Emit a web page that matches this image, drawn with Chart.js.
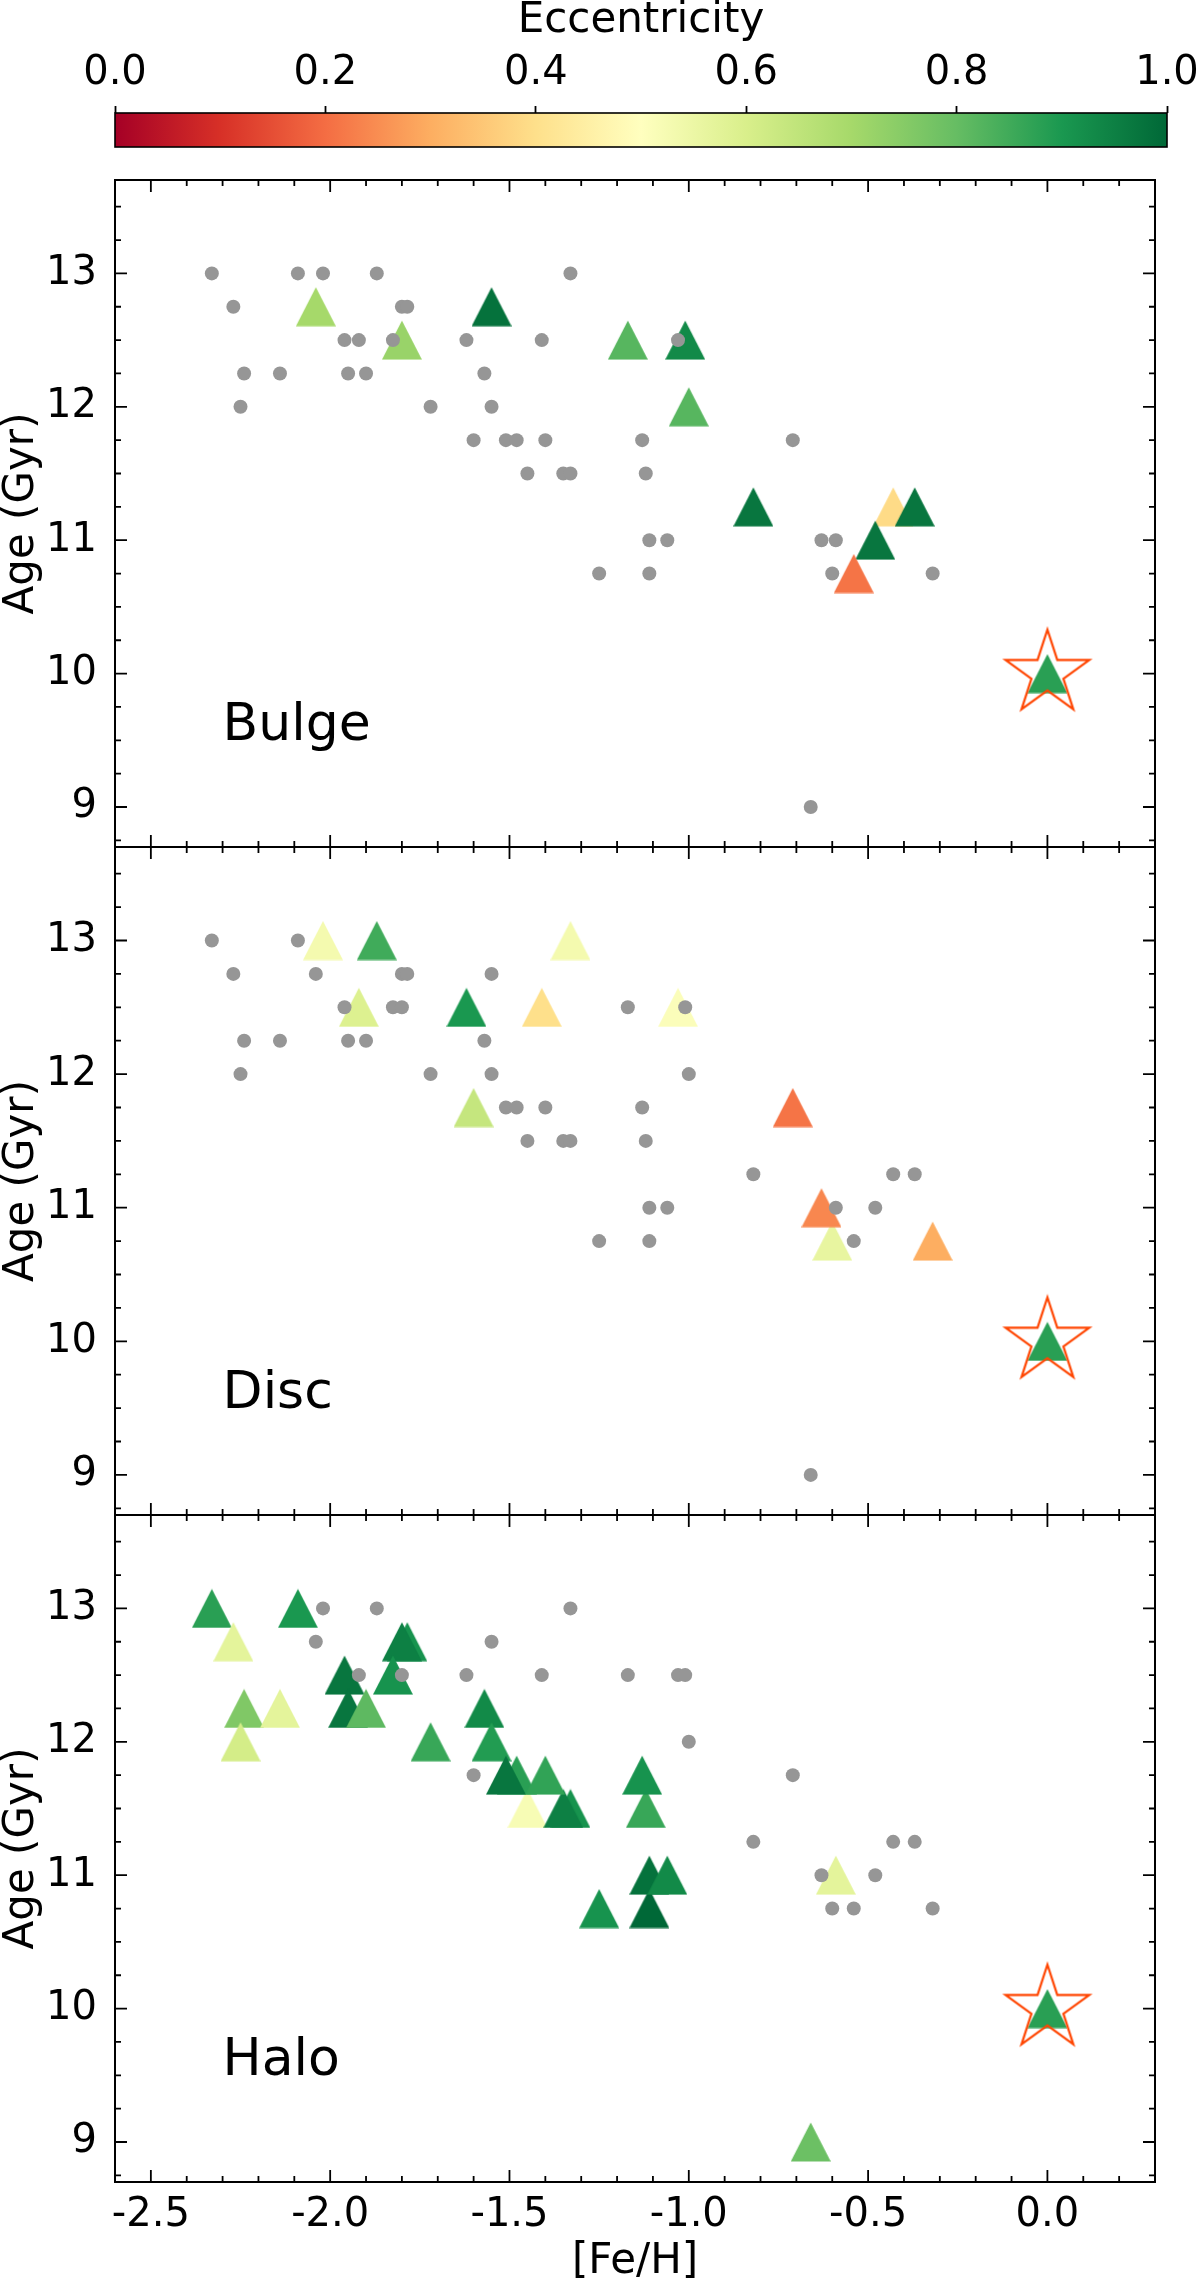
<!DOCTYPE html>
<html lang="en">
<head>
    <meta charset="UTF-8">
    <title>Age - [Fe/H] by component</title>
    <script src="https://cdn.jsdelivr.net/npm/chart.js"></script>
    <style>
        * { margin: 0; padding: 0; box-sizing: border-box; }
        body { background: #fff; width: 1200px; height: 2281px; overflow: hidden; }
        #wrap { position: relative; width: 1200px; height: 2281px; }
        canvas { position: absolute; left: 0; top: 0; }
    </style>
</head>
<body>
<div id="wrap">
    <canvas id="cbar" width="1200" height="160"></canvas>
    <canvas id="bulge" width="1200" height="2281"></canvas>
    <canvas id="disc" width="1200" height="2281"></canvas>
    <canvas id="halo" width="1200" height="2281"></canvas>
</div>

<script>
    // ---- data ----
    const panelNames = ['Bulge', 'Disc', 'Halo'];

    // grey dots: clusters not in the component
    const bulgeGreyFeH = [-2.33, -2.09, -2.02, -1.87, -1.33,
        -2.27, -1.80, -1.785,
        -1.96, -1.92, -1.825, -1.62, -1.41, -1.03,
        -2.24, -2.14, -1.95, -1.90, -1.57,
        -2.25, -1.72, -1.55,
        -1.60, -1.51, -1.48, -1.40, -1.13, -0.71,
        -1.45, -1.35, -1.33, -1.12,
        -1.11, -1.06, -0.63, -0.59,
        -1.25, -1.11, -0.60, -0.32,
        -0.66];
    const bulgeGreyAge = [13, 13, 13, 13, 13,
        12.75, 12.75, 12.75,
        12.5, 12.5, 12.5, 12.5, 12.5, 12.5,
        12.25, 12.25, 12.25, 12.25, 12.25,
        12, 12, 12,
        11.75, 11.75, 11.75, 11.75, 11.75, 11.75,
        11.5, 11.5, 11.5, 11.5,
        11, 11, 11, 11,
        10.75, 10.75, 10.75, 10.75,
        9];

    const discGreyFeH = [-2.33, -2.09,
        -2.27, -2.04, -1.80, -1.785, -1.55,
        -1.96, -1.825, -1.80, -1.17, -1.01,
        -2.24, -2.14, -1.95, -1.90, -1.57,
        -2.25, -1.72, -1.55, -1.00,
        -1.51, -1.48, -1.40, -1.13,
        -1.45, -1.35, -1.33, -1.12,
        -0.82, -0.43, -0.37,
        -1.11, -1.06, -0.59, -0.48,
        -1.25, -1.11, -0.54,
        -0.66];
    const discGreyAge = [13, 13,
        12.75, 12.75, 12.75, 12.75, 12.75,
        12.5, 12.5, 12.5, 12.5, 12.5,
        12.25, 12.25, 12.25, 12.25, 12.25,
        12, 12, 12, 12,
        11.75, 11.75, 11.75, 11.75,
        11.5, 11.5, 11.5, 11.5,
        11.25, 11.25, 11.25,
        11, 11, 11, 11,
        10.75, 10.75, 10.75,
        9];

    const haloGreyFeH = [-2.02, -1.87, -1.33,
        -2.04, -1.55,
        -1.92, -1.80, -1.62, -1.41, -1.17, -1.03, -1.01,
        -1.00,
        -1.60, -0.71,
        -0.82, -0.43, -0.37,
        -0.63, -0.48,
        -0.60, -0.54, -0.32];
    const haloGreyAge = [13, 13, 13,
        12.75, 12.75,
        12.5, 12.5, 12.5, 12.5, 12.5, 12.5, 12.5,
        12,
        11.75, 11.75,
        11.25, 11.25, 11.25,
        11, 11,
        10.75, 10.75, 10.75];

    // triangles: clusters in the component, coloured by eccentricity (last one sits in the star)
    const bulgeFeH = [-2.04, -1.80, -1.55, -1.17, -1.01, -1.00, -0.82, -0.43, -0.37, -0.48, -0.54, 0.0];
    const bulgeAge = [12.75, 12.5, 12.75, 12.5, 12.5, 12.0, 11.25, 11.25, 11.25, 11.0, 10.75, 10.0];
    const bulgeEcc = [0.70, 0.72, 0.98, 0.82, 0.93, 0.82, 0.97, 0.39, 0.97, 0.97, 0.21, 0.88];

    const discFeH = [-2.02, -1.87, -1.33, -1.92, -1.62, -1.41, -1.03, -1.60, -0.71, -0.60, -0.63, -0.32, 0.0];
    const discAge = [13.0, 13.0, 13.0, 12.5, 12.5, 12.5, 12.5, 11.75, 11.75, 10.75, 11.0, 10.75, 10.0];
    const discEcc = [0.53, 0.85, 0.53, 0.59, 0.90, 0.40, 0.51, 0.64, 0.21, 0.56, 0.24, 0.30, 0.88];

    const haloFeH = [-2.33, -2.09, -2.27, -1.785, -1.80, -1.96, -1.825, -2.24, -2.14, -1.95,
        -1.90, -1.57, -2.25, -1.72, -1.55, -1.45, -1.33, -1.35, -1.12, -1.48,
        -1.51, -1.40, -1.13, -1.11, -1.11, -1.06, -1.25, -0.59, -0.66, 0.0];
    const haloAge = [13.0, 13.0, 12.75, 12.75, 12.75, 12.5, 12.5, 12.25, 12.25, 12.25,
        12.25, 12.25, 12.0, 12.0, 12.0, 11.5, 11.5, 11.5, 11.5, 11.75,
        11.75, 11.75, 11.75, 10.75, 11.0, 11.0, 10.75, 11.0, 9.0, 10.0];
    const haloEcc = [0.88, 0.90, 0.57, 0.91, 0.95, 0.97, 0.91, 0.76, 0.57, 0.97,
        0.81, 0.93, 0.61, 0.86, 0.89, 0.52, 0.91, 0.95, 0.86, 0.88,
        0.97, 0.87, 0.91, 1.00, 0.98, 0.93, 0.91, 0.57, 0.79, 0.88];

    // open star
    const starFeH = [0.0];
    const starAge = [10.0];

    // axes
    const xMin = -2.6, xMax = 0.3;
    const yMin = 8.7, yMax = 13.7;
    const xTickValues = [-2.5, -2.0, -1.5, -1.0, -0.5, 0.0];
    const yTickValues = [9, 10, 11, 12, 13];
    const cbTickValues = [0.0, 0.2, 0.4, 0.6, 0.8, 1.0];

    // ---- layout (pixels) ----
    const W = 1200, H = 2281;
    const plotLeft = 115, plotRight = 1167;
    const panelTop = [180, 847, 1515];
    const panelBottom = [847, 1515, 2182];
    const tickFont = 40, labelFont = 42;

    Chart.defaults.font.family = '"DejaVu Sans", sans-serif';
    Chart.defaults.color = '#000';

    // RdYlGn, 11 anchor colours
    const rdylgn = ['#a50026', '#d73027', '#f46d43', '#fdae61', '#fee08b', '#ffffbf',
        '#d9ef8b', '#a6d96a', '#66bd63', '#1a9850', '#006837'];

    function hexRgb(h) {
        return [parseInt(h.slice(1, 3), 16), parseInt(h.slice(3, 5), 16), parseInt(h.slice(5, 7), 16)];
    }

    function eccColor(e) {
        const t = Math.min(Math.max(e, 0), 1) * 10;
        let i = Math.floor(t);
        if (i >= 10) i = 9;
        const f = t - i;
        const a = hexRgb(rdylgn[i]), b = hexRgb(rdylgn[i + 1]);
        const c = a.map((v, k) => Math.round(v + (b[k] - v) * f));
        return 'rgb(' + c.join(',') + ')';
    }

    // matplotlib-like '^' marker (as wide as it is tall, centred on its box)
    const triCache = {};
    function triangleImg(color) {
        if (triCache[color]) return triCache[color];
        const c = document.createElement('canvas');
        c.width = 40; c.height = 40;
        const g = c.getContext('2d');
        g.fillStyle = color;
        g.beginPath();
        g.moveTo(20, 0.5);
        g.lineTo(40, 39.5);
        g.lineTo(0, 39.5);
        g.closePath();
        g.fill();
        triCache[color] = c;
        return c;
    }

    // matplotlib-like '*' marker, outline only, centred on the star centre
    function starImg() {
        const R = 44, s = 2 * R + 8;
        const c = document.createElement('canvas');
        c.width = s; c.height = s;
        const g = c.getContext('2d');
        g.strokeStyle = '#ff4500';
        g.lineWidth = 2.2;
        g.lineJoin = 'miter';
        g.beginPath();
        for (let k = 0; k < 10; k++) {
            const r = k % 2 ? R * 0.381966 : R;
            const a = -Math.PI / 2 + k * Math.PI / 5;
            const px = s / 2 + r * Math.cos(a), py = s / 2 + r * Math.sin(a);
            if (k === 0) g.moveTo(px, py); else g.lineTo(px, py);
        }
        g.closePath();
        g.stroke();
        return c;
    }
    const starMarker = starImg();

    function points(xs, ys) {
        return xs.map((x, i) => ({ x: x, y: ys[i] }));
    }

    // frame with inward ticks on all four sides, plus the panel name
    function framePlugin(idx) {
        return {
            id: 'frame' + idx,
            afterDatasetsDraw(chart) {
                const ctx = chart.ctx;
                ctx.save();
                ctx.font = '52px "DejaVu Sans"';
                ctx.fillStyle = '#000';
                ctx.textAlign = 'left';
                ctx.textBaseline = 'alphabetic';
                ctx.fillText(panelNames[idx], chart.scales.x.getPixelForValue(-2.3), chart.scales.y.getPixelForValue(9.5));
                ctx.restore();
            },
            afterDraw(chart) {
                const ctx = chart.ctx;
                const a = chart.chartArea;
                const xs = chart.scales.x, ys = chart.scales.y;
                ctx.save();
                ctx.strokeStyle = '#000';
                ctx.lineWidth = 1.8;
                ctx.beginPath();
                for (let k = -26; k <= 3; k++) {
                    const px = xs.getPixelForValue(k / 10);
                    const len = k % 5 === 0 ? 12 : 6;
                    ctx.moveTo(px, a.bottom); ctx.lineTo(px, a.bottom - len);
                    ctx.moveTo(px, a.top); ctx.lineTo(px, a.top + len);
                }
                for (let k = 35; k <= 54; k++) {
                    const py = ys.getPixelForValue(k / 4);
                    const len = k % 4 === 0 ? 12 : 6;
                    ctx.moveTo(a.left, py); ctx.lineTo(a.left + len, py);
                    ctx.moveTo(a.right, py); ctx.lineTo(a.right - len, py);
                }
                ctx.stroke();
                ctx.lineWidth = 2;
                ctx.strokeRect(a.left, a.top, a.right - a.left, a.bottom - a.top);
                ctx.restore();
            }
        };
    }

    function panelChart(id, idx, greyX, greyY, triX, triY, triE) {
        const showX = idx === 2;
        return new Chart(document.getElementById(id), {
            type: 'scatter',
            data: {
                datasets: [
                    {
                        data: points(greyX, greyY),
                        pointStyle: 'circle',
                        pointRadius: 7,
                        pointBackgroundColor: '#969696',
                        pointBorderWidth: 0
                    },
                    {
                        data: points(starFeH, starAge),
                        pointStyle: starMarker,
                        pointRadius: 44
                    },
                    {
                        data: points(triX, triY),
                        pointStyle: (c) => c.dataIndex === undefined ? 'triangle' : triangleImg(eccColor(triE[c.dataIndex])),
                        pointRadius: 20
                    }
                ]
            },
            options: {
                animation: false,
                responsive: false,
                devicePixelRatio: 1,
                events: [],
                layout: {
                    padding: { left: 0, right: W - plotRight, top: panelTop[idx], bottom: showX ? 0 : H - panelBottom[idx] }
                },
                plugins: { legend: { display: false }, tooltip: { enabled: false } },
                scales: {
                    x: {
                        type: 'linear',
                        min: xMin,
                        max: xMax,
                        display: showX,
                        grid: { display: false },
                        border: { display: false },
                        afterBuildTicks: (s) => { s.ticks = xTickValues.map(v => ({ value: v })); },
                        ticks: {
                            padding: 6,
                            autoSkip: false,
                            maxRotation: 0,
                            font: { size: tickFont, lineHeight: 1 },
                            callback: (v) => v.toFixed(1)
                        },
                        title: { display: true, text: '[Fe/H]', font: { size: labelFont, lineHeight: 0.9 }, padding: 0 },
                        afterFit: (s) => {
                            if (showX) s.height = H - panelBottom[2];
                            s.paddingLeft = 0;
                            s.paddingRight = 0;
                        }
                    },
                    y: {
                        type: 'linear',
                        min: yMin,
                        max: yMax,
                        grid: { display: false },
                        border: { display: false },
                        afterBuildTicks: (s) => { s.ticks = yTickValues.map(v => ({ value: v })); },
                        ticks: { padding: 10, font: { size: tickFont }, callback: (v) => String(v) },
                        title: { display: true, text: 'Age (Gyr)', font: { size: labelFont, lineHeight: 1 }, padding: { top: 1, bottom: 0 } },
                        afterFit: (s) => {
                            s.width = plotLeft;
                            s.paddingTop = 0;
                            s.paddingBottom = 0;
                        }
                    }
                }
            },
            plugins: [framePlugin(idx)]
        });
    }

    // ---- colour bar ----
    new Chart(document.getElementById('cbar'), {
        type: 'scatter',
        data: { datasets: [{ data: [] }] },
        options: {
            animation: false,
            responsive: false,
            devicePixelRatio: 1,
            events: [],
            layout: { padding: { left: plotLeft, right: W - plotRight, top: 0, bottom: 13 } },
            plugins: { legend: { display: false }, tooltip: { enabled: false } },
            scales: {
                x: {
                    type: 'linear',
                    position: 'top',
                    min: 0,
                    max: 1,
                    afterBuildTicks: (s) => { s.ticks = cbTickValues.map(v => ({ value: v })); },
                    grid: {
                        display: true,
                        drawOnChartArea: false,
                        drawTicks: true,
                        tickLength: 7,
                        tickWidth: 1.8,
                        tickColor: '#000',
                        color: '#000'
                    },
                    border: { display: false },
                    ticks: {
                        padding: 8,
                        autoSkip: false,
                        maxRotation: 0,
                        font: { size: tickFont },
                        callback: (v) => v.toFixed(1)
                    },
                    title: { display: true, text: 'Eccentricity', font: { size: labelFont, lineHeight: 1 }, padding: 0 },
                    afterFit: (s) => {
                        s.height = 113;
                        s.paddingLeft = 0;
                        s.paddingRight = 0;
                    }
                },
                y: { display: false, min: 0, max: 1 }
            }
        },
        plugins: [{
            id: 'cbfill',
            beforeDatasetsDraw(chart) {
                const ctx = chart.ctx;
                const a = chart.chartArea;
                const grad = ctx.createLinearGradient(a.left, 0, a.right, 0);
                rdylgn.forEach((c, i) => grad.addColorStop(i / 10, c));
                ctx.save();
                ctx.fillStyle = grad;
                ctx.fillRect(a.left, a.top, a.right - a.left, a.bottom - a.top);
                ctx.strokeStyle = '#000';
                ctx.lineWidth = 1.6;
                ctx.strokeRect(a.left, a.top, a.right - a.left, a.bottom - a.top);
                ctx.restore();
            }
        }]
    });

    panelChart('bulge', 0, bulgeGreyFeH, bulgeGreyAge, bulgeFeH, bulgeAge, bulgeEcc);
    panelChart('disc', 1, discGreyFeH, discGreyAge, discFeH, discAge, discEcc);
    panelChart('halo', 2, haloGreyFeH, haloGreyAge, haloFeH, haloAge, haloEcc);
</script>
</body>
</html>
